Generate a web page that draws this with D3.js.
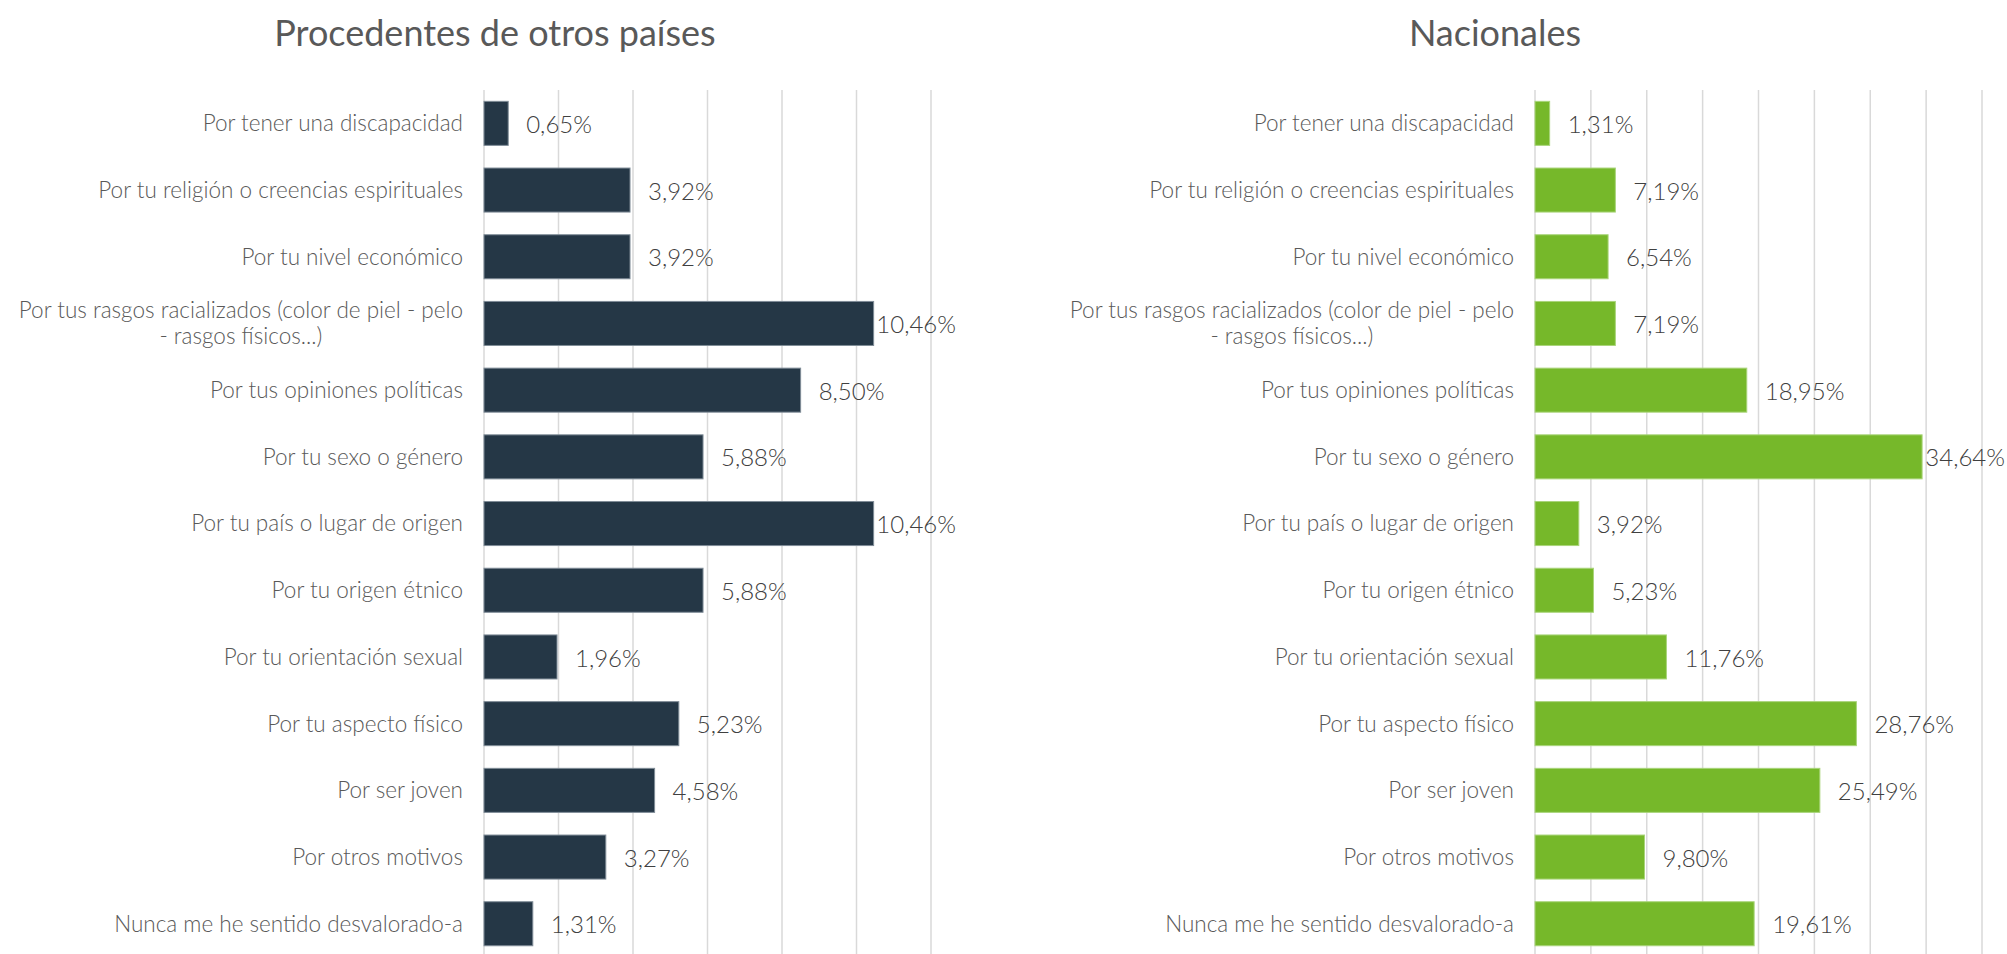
<!DOCTYPE html>
<html>
<head>
<meta charset="utf-8">
<script src="https://cdn.jsdelivr.net/npm/d3@7"></script>
<style>
  body { margin: 0; background: #fff; }
  svg { display: block; font-family: "Lato", "Open Sans", sans-serif; }
  .title { font-size: 36px; fill: #595959; font-weight: 400; }
  .cat { font-size: 22.5px; fill: #595959; font-weight: 300; }
  .val { font-size: 24px; fill: #404040; font-weight: 300; }
  .grid line { stroke: #d9d9d9; stroke-width: 1.5; }
</style>
</head>
<body>
<svg id="chart" width="2007" height="954"></svg>
<script>
const categories = [
  "Por tener una discapacidad",
  "Por tu religión o creencias espirituales",
  "Por tu nivel económico",
  "Por tus rasgos racializados (color de piel - pelo|- rasgos físicos...)",
  "Por tus opiniones políticas",
  "Por tu sexo o género",
  "Por tu país o lugar de origen",
  "Por tu origen étnico",
  "Por tu orientación sexual",
  "Por tu aspecto físico",
  "Por ser joven",
  "Por otros motivos",
  "Nunca me he sentido desvalorado-a"
];

const extranjeros = [0.65, 3.92, 3.92, 10.46, 8.50, 5.88, 10.46, 5.88, 1.96, 5.23, 4.58, 3.27, 1.31];
const nacionales = [1.31, 7.19, 6.54, 7.19, 18.95, 34.64, 3.92, 5.23, 11.76, 28.76, 25.49, 9.80, 19.61];

const panels = [
  { title: "Procedentes de otros países", values: extranjeros, color: "#253746", stroke: "#7f8c97",
    titleX: 495, x0: 484, x1: 931, domain: [0, 12], ticks: d3.range(0, 13, 2), labelLimit: 956 },
  { title: "Nacionales", values: nacionales, color: "#76b82a", stroke: "#a9d47a",
    titleX: 1495, x0: 1535, x1: 1982, domain: [0, 40], ticks: d3.range(0, 41, 5), labelLimit: 2005 }
];

const svg = d3.select("#chart");
const fmt = (v) => d3.format(".2f")(v).replace(".", ",") + "%";

const y = d3.scaleBand()
  .domain(categories)
  .range([90, 90 + 66.7 * categories.length])
  .paddingInner(0.34)
  .paddingOuter(0.17);

panels.forEach((p) => {
  const x = d3.scaleLinear().domain(p.domain).range([p.x0, p.x1]);
  const g = svg.append("g");

  g.append("text")
    .attr("class", "title")
    .attr("x", p.titleX)
    .attr("y", 46)
    .attr("text-anchor", "middle")
    .text(p.title);

  g.append("g")
    .attr("class", "grid")
    .selectAll("line")
    .data(p.ticks)
    .join("line")
    .attr("x1", (d) => x(d))
    .attr("x2", (d) => x(d))
    .attr("y1", 90)
    .attr("y2", 954);

  const rows = categories.map((c, i) => ({ cat: c, value: p.values[i] }));

  g.selectAll("rect.bar")
    .data(rows)
    .join("rect")
    .attr("class", "bar")
    .attr("x", x(0))
    .attr("y", (d) => y(d.cat))
    .attr("width", (d) => x(d.value) - x(0))
    .attr("height", y.bandwidth())
    .attr("fill", p.color)
    .attr("stroke", p.stroke)
    .attr("stroke-width", 1);

  // category labels, wrapped lines centred on the block
  rows.forEach((d) => {
    const lines = d.cat.split("|");
    const cy = y(d.cat) + y.bandwidth() / 2;
    const t = g.append("text").attr("class", "cat");
    lines.forEach((ln, k) => {
      t.append("tspan")
        .attr("y", cy + (k - (lines.length - 1) / 2) * 26)
        .attr("dy", "0.35em")
        .text(ln);
    });
    const widths = t.selectAll("tspan").nodes().map((n) => n.getComputedTextLength());
    const maxW = d3.max(widths);
    t.attr("text-anchor", "middle")
      .selectAll("tspan")
      .attr("x", x(0) - 21 - maxW / 2);
  });

  // value labels
  g.selectAll("text.val")
    .data(rows)
    .join("text")
    .attr("class", "val")
    .attr("y", (d) => y(d.cat) + y.bandwidth() / 2)
    .attr("dy", "0.4em")
    .text((d) => fmt(d.value))
    .attr("x", function (d) {
      const w = this.getComputedTextLength();
      const end = x(d.value);
      return Math.max(end, Math.min(end + 18, p.labelLimit - w));
    });
});
</script>
</body>
</html>
